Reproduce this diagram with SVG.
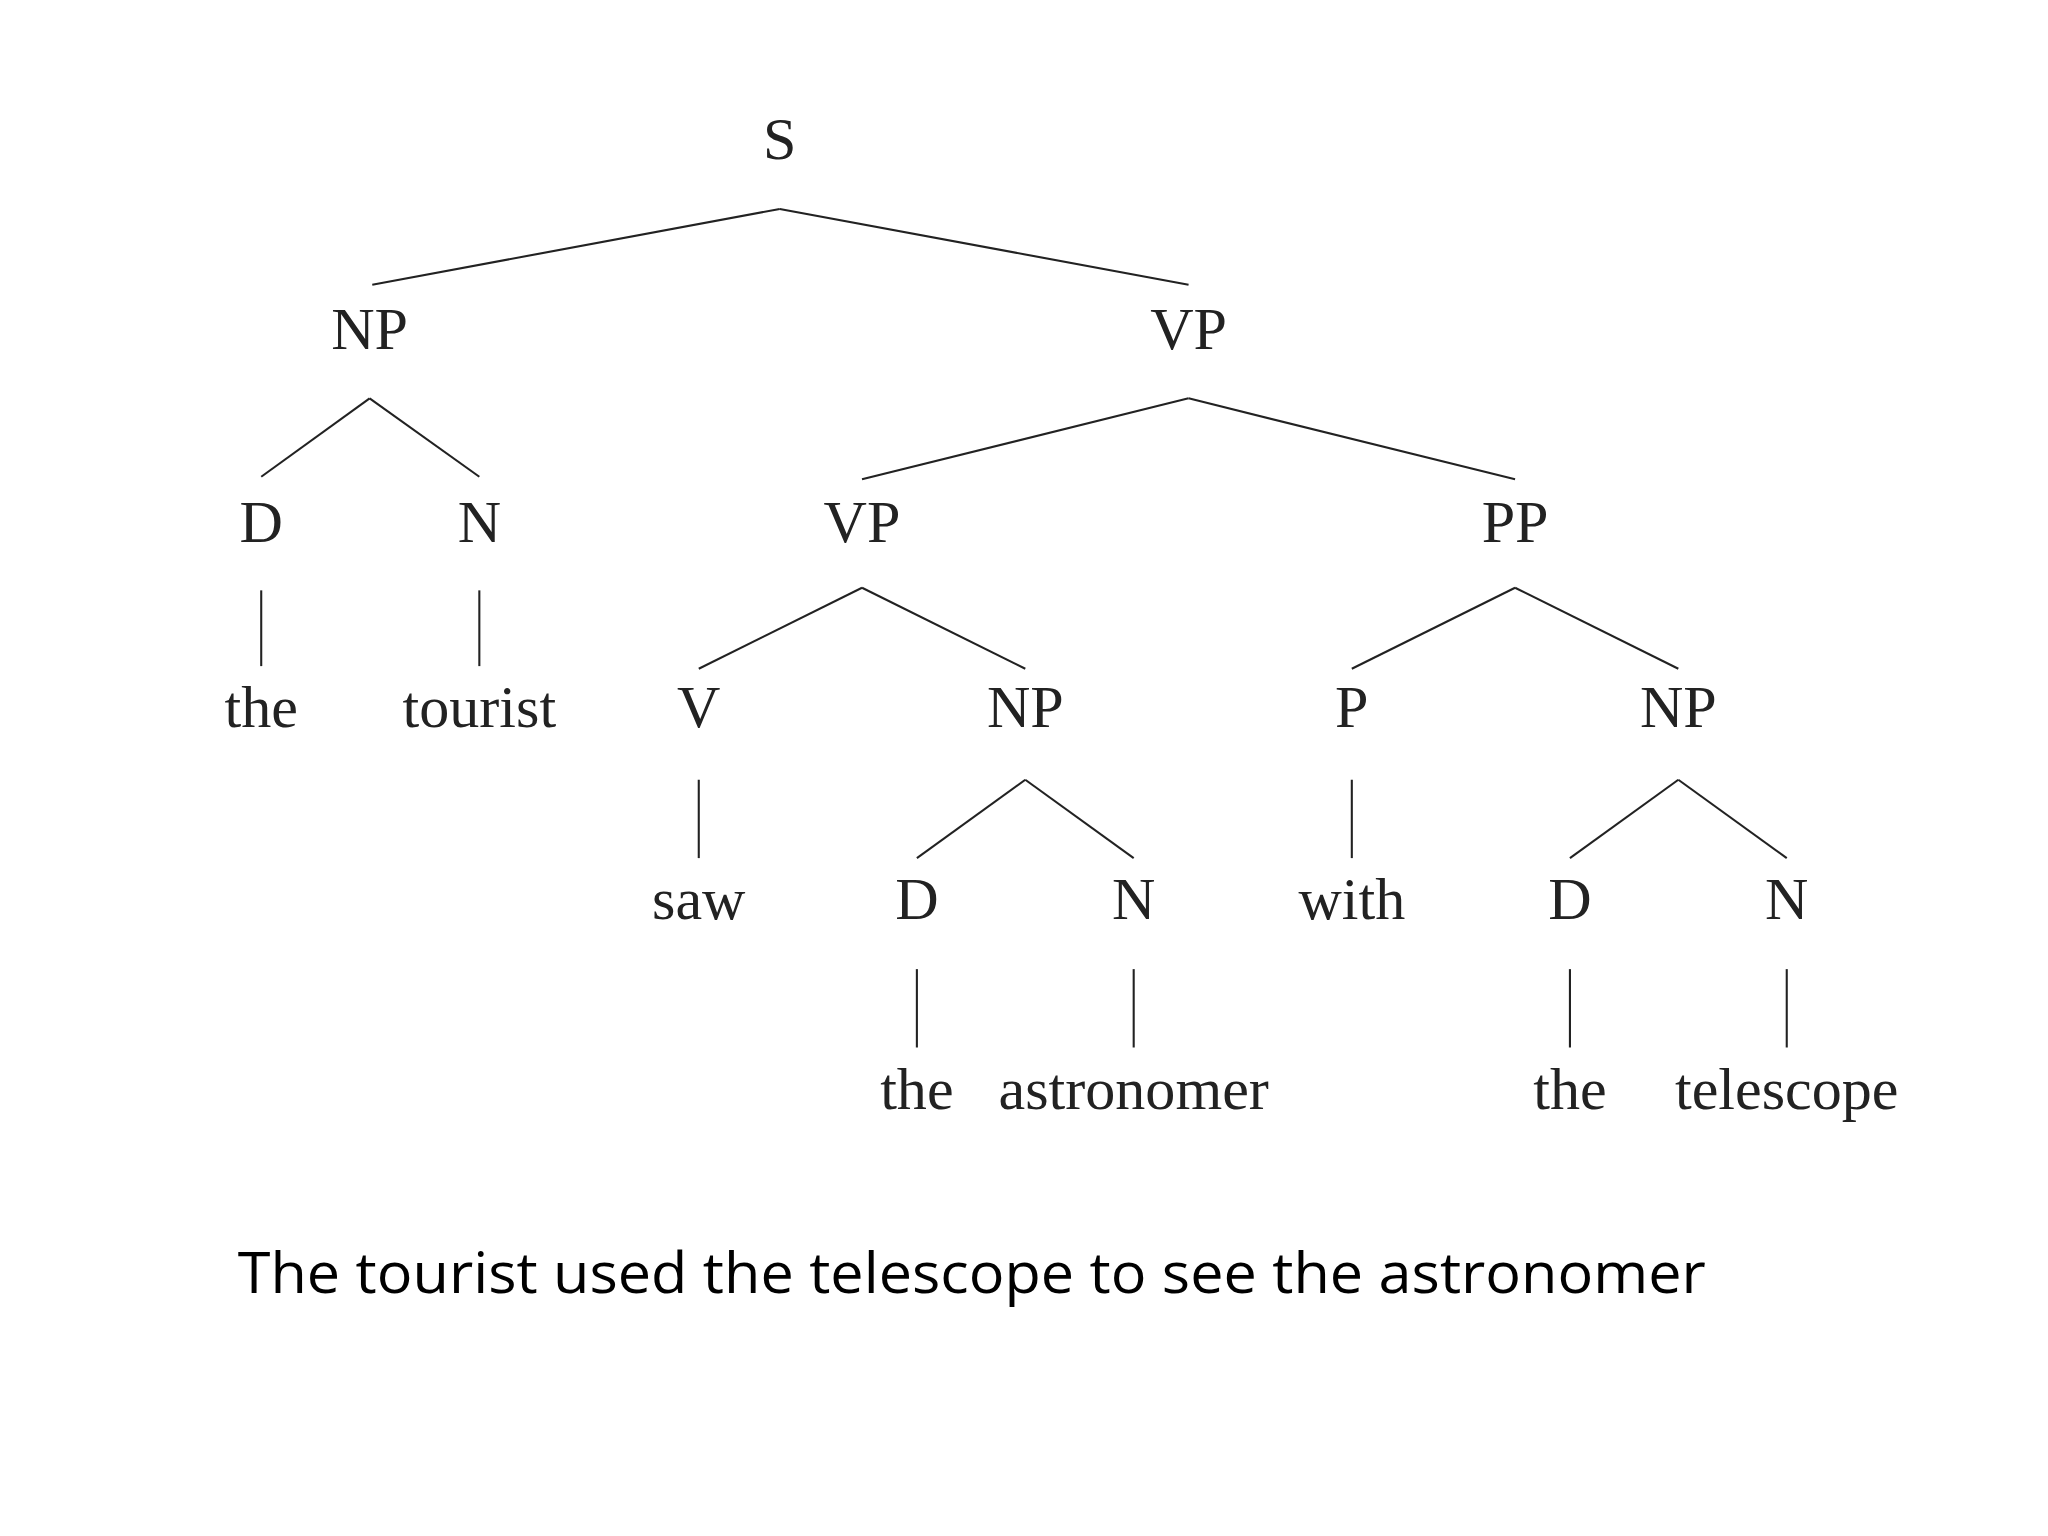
<svg xmlns="http://www.w3.org/2000/svg" width="2048" height="1536" viewBox="0 0 2048 1536">
<style>
.t{font-family:"Liberation Serif","DejaVu Serif",serif;font-size:46px;fill:#222;text-anchor:middle}
.c{font-family:"Open Sans","Noto Sans",sans-serif;font-size:44px;fill:#000}
#edges line{stroke:#222;stroke-width:1.6}
</style>
<rect width="2048" height="1536" fill="#fff"/>
<g transform="scale(1.3061)">
<g id="edges">
<line x1="597" y1="160" x2="285" y2="218"/><line x1="597" y1="160" x2="910" y2="218"/>
<line x1="283" y1="305" x2="200" y2="365"/><line x1="283" y1="305" x2="367" y2="365"/>
<line x1="200" y1="452" x2="200" y2="510"/><line x1="367" y1="452" x2="367" y2="510"/>
<line x1="910" y1="305" x2="660" y2="367"/><line x1="910" y1="305" x2="1160" y2="367"/>
<line x1="660" y1="450" x2="535" y2="512"/><line x1="660" y1="450" x2="785" y2="512"/>
<line x1="1160" y1="450" x2="1035" y2="512"/><line x1="1160" y1="450" x2="1285" y2="512"/>
<line x1="535" y1="597" x2="535" y2="657"/><line x1="1035" y1="597" x2="1035" y2="657"/>
<line x1="785" y1="597" x2="702" y2="657"/><line x1="785" y1="597" x2="868" y2="657"/>
<line x1="1285" y1="597" x2="1202" y2="657"/><line x1="1285" y1="597" x2="1368" y2="657"/>
<line x1="702" y1="742" x2="702" y2="802"/><line x1="868" y1="742" x2="868" y2="802"/>
<line x1="1202" y1="742" x2="1202" y2="802"/><line x1="1368" y1="742" x2="1368" y2="802"/>
</g>
<g id="S"><text class="t" x="597" y="122">S</text></g>
<g id="NP1"><text class="t" x="283" y="267">NP</text></g>
<g id="VP1"><text class="t" x="910" y="267">VP</text></g>
<g id="D1"><text class="t" x="200" y="415">D</text></g>
<g id="N1"><text class="t" x="367" y="415">N</text></g>
<g id="VP2"><text class="t" x="660" y="415">VP</text></g>
<g id="PP"><text class="t" x="1160" y="415">PP</text></g>
<g id="w_the1"><text class="t" x="200" y="557">the</text></g>
<g id="w_tourist"><text class="t" x="367" y="557">tourist</text></g>
<g id="V"><text class="t" x="535" y="557">V</text></g>
<g id="NP2"><text class="t" x="785" y="557">NP</text></g>
<g id="P"><text class="t" x="1035" y="557">P</text></g>
<g id="NP3"><text class="t" x="1285" y="557">NP</text></g>
<g id="w_saw"><text class="t" x="535" y="704">saw</text></g>
<g id="D2"><text class="t" x="702" y="704">D</text></g>
<g id="N2"><text class="t" x="868" y="704">N</text></g>
<g id="w_with"><text class="t" x="1035" y="704">with</text></g>
<g id="D3"><text class="t" x="1202" y="704">D</text></g>
<g id="N3"><text class="t" x="1368" y="704">N</text></g>
<g id="w_the2"><text class="t" x="702" y="849">the</text></g>
<g id="w_astronomer"><text class="t" x="868" y="849">astronomer</text></g>
<g id="w_the3"><text class="t" x="1202" y="849">the</text></g>
<g id="w_telescope"><text class="t" x="1368" y="849">telescope</text></g>
<text class="c" x="182" y="990" textLength="1124" lengthAdjust="spacingAndGlyphs">The tourist used the telescope to see the astronomer</text>
</g>
</svg>
